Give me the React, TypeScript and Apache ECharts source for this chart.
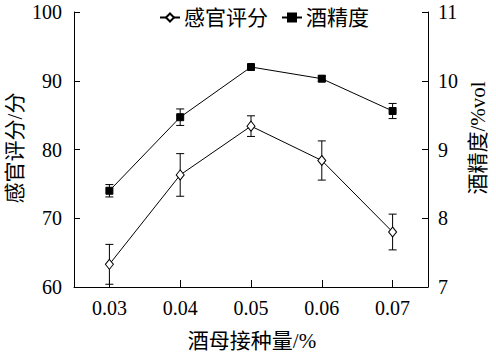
import React, { useEffect, useRef } from "react";
import * as echarts from "echarts";

const categories = ["0.03", "0.04", "0.05", "0.06", "0.07"];
const sensoryScore = [63.3, 76.3, 83.4, 78.4, 68.0];
const sensoryErr = [2.9, 3.1, 1.5, 2.85, 2.6];
const alcohol = [8.4, 9.47, 10.2, 10.03, 9.56];
const alcoholErr = [0.09, 0.12, 0.02, 0.04, 0.11];
const leftTicks = [60, 70, 80, 90, 100];
const rightTicks = [7, 8, 9, 10, 11];

const FONT = '"Liberation Serif", "Noto Sans CJK SC", serif';

function errRender(params: any, api: any) {
  const x = api.value(0);
  const lo = api.coord([x, api.value(1)]);
  const hi = api.coord([x, api.value(2)]);
  const hw = 4;
  const style = { stroke: "#000", lineWidth: 1 };
  return {
    type: "group",
    children: [
      { type: "line", shape: { x1: lo[0], y1: lo[1], x2: hi[0], y2: hi[1] }, style },
      { type: "line", shape: { x1: lo[0] - hw, y1: lo[1], x2: lo[0] + hw, y2: lo[1] }, style },
      { type: "line", shape: { x1: hi[0] - hw, y1: hi[1], x2: hi[0] + hw, y2: hi[1] }, style },
    ],
  };
}

export default function App() {
  const ref = useRef<HTMLDivElement>(null);
  useEffect(() => {
    document.body.style.margin = "0";
    if (!ref.current) return;
    const chart = echarts.init(ref.current, null, { renderer: "svg" });
    const sensoryErrData = categories.map((_, i) => [i, sensoryScore[i] - sensoryErr[i], sensoryScore[i] + sensoryErr[i]]);
    const alcoholErrData = categories.map((_, i) => [i, alcohol[i] - alcoholErr[i], alcohol[i] + alcoholErr[i]]);
    const labelStyle = { color: "#000", fontSize: 20, fontFamily: FONT };
    const titleStyle = { fill: "#000", fontSize: 21, fontFamily: FONT, align: "center", verticalAlign: "middle" };
    const axisCommon = {
      axisLine: { show: true, lineStyle: { color: "#000", width: 1 } },
      axisTick: { show: true, inside: true, length: 6, lineStyle: { color: "#000" } },
      splitLine: { show: false },
    };
    chart.setOption({
      animation: false,
      backgroundColor: "#fff",
      textStyle: { fontFamily: FONT },
      legend: {
        top: 2,
        left: 154,
        itemWidth: 20,
        itemHeight: 10,
        itemGap: 13,
        textStyle: { color: "#000", fontSize: 21, fontFamily: FONT, padding: [0, 0, 0, -1] },
        data: ["感官评分", "酒精度"],
      },
      grid: { left: 74, right: 68, top: 12, bottom: 70, containLabel: false },
      xAxis: {
        type: "category",
        data: categories,
        boundaryGap: true,
        ...axisCommon,
        axisTick: { show: true, inside: true, length: 7, alignWithLabel: true, lineStyle: { color: "#000" } },
        axisLabel: { ...labelStyle, margin: 11 },
      },
      yAxis: [
        {
          type: "value",
          min: leftTicks[0],
          max: leftTicks[leftTicks.length - 1],
          interval: 10,
          ...axisCommon,
          axisLabel: { ...labelStyle, margin: 12 },
        },
        {
          type: "value",
          position: "right",
          min: rightTicks[0],
          max: rightTicks[rightTicks.length - 1],
          interval: 1,
          ...axisCommon,
          axisLabel: { ...labelStyle, margin: 10 },
        },
      ],
      graphic: [
        {
          type: "text",
          x: 15,
          y: 148,
          rotation: Math.PI / 2,
          style: { text: "感官评分/分", ...titleStyle },
        },
        {
          type: "text",
          x: 478,
          y: 138,
          rotation: Math.PI / 2,
          style: { text: "酒精度/%vol", ...titleStyle },
        },
        {
          type: "text",
          x: 252,
          y: 341,
          style: { text: "酒母接种量/%", ...titleStyle },
        },
      ],
      series: [
        {
          name: "感官评分err",
          type: "custom",
          yAxisIndex: 0,
          renderItem: errRender,
          encode: { x: 0, y: [1, 2] },
          data: sensoryErrData,
          z: 1,
          silent: true,
        },
        {
          name: "酒精度err",
          type: "custom",
          yAxisIndex: 1,
          renderItem: errRender,
          encode: { x: 0, y: [1, 2] },
          data: alcoholErrData,
          z: 1,
          silent: true,
        },
        {
          name: "感官评分",
          type: "line",
          yAxisIndex: 0,
          data: sensoryScore,
          symbol: "diamond",
          symbolSize: [8, 10],
          showAllSymbol: true,
          lineStyle: { color: "#000", width: 1 },
          itemStyle: { color: "#fff", borderColor: "#000", borderWidth: 1 },
          z: 3,
        },
        {
          name: "酒精度",
          type: "line",
          yAxisIndex: 1,
          data: alcohol,
          symbol: "rect",
          symbolSize: 7,
          showAllSymbol: true,
          lineStyle: { color: "#000", width: 1 },
          itemStyle: { color: "#000", borderColor: "#000", borderWidth: 1 },
          z: 3,
        },
      ],
    });
    return () => chart.dispose();
  }, []);
  return <div ref={ref} style={{ width: 496, height: 357 }} />;
}
